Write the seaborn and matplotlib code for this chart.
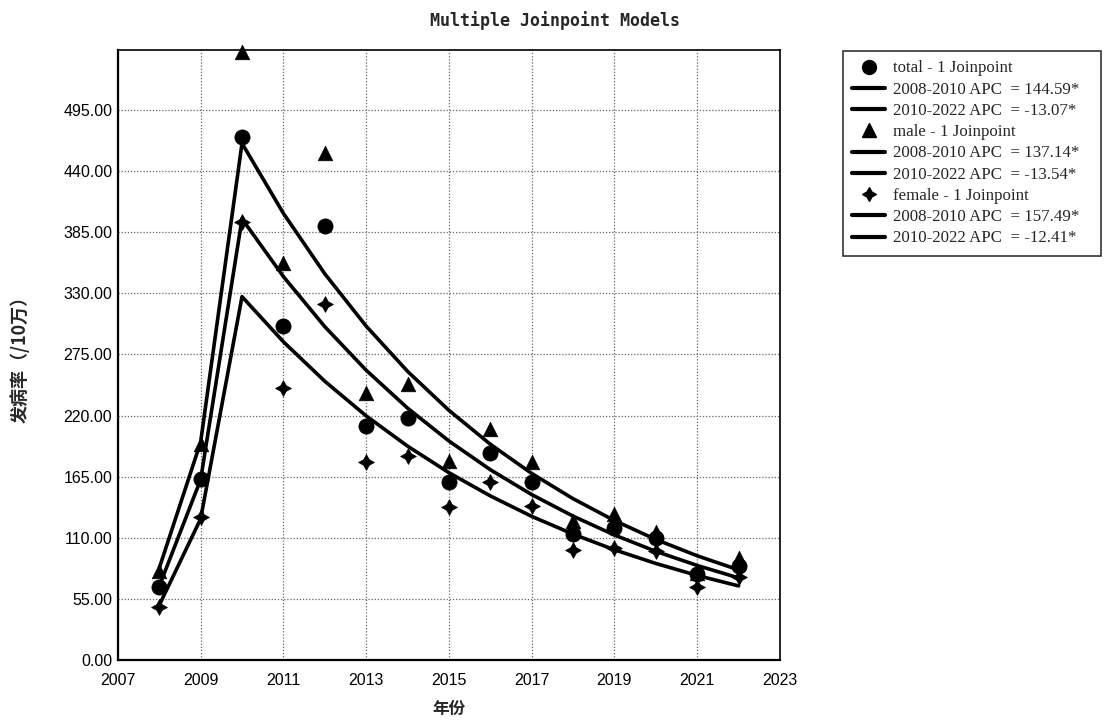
import numpy as np
import pandas as pd
import matplotlib
matplotlib.use("Agg")
import matplotlib.pyplot as plt
from matplotlib.lines import Line2D
import seaborn as sns

years = [2008, 2009, 2010, 2011, 2012, 2013, 2014, 2015, 2016, 2017, 2018, 2019, 2020, 2021, 2022]

total_obs = [65.7, 163, 471, 301, 391, 211, 218, 160, 186, 160, 113, 119, 110, 77, 85]
male_obs = [80, 194, 547, 357, 456, 240, 248, 179, 208, 178, 125, 131, 115, 78, 92]
female_obs = [48, 129, 394, 245, 320, 178, 184, 138, 160, 139, 99, 101, 98, 66, 75]

total_fit = [66.4, 162.3, 397.0, 345.1, 300.0, 260.8, 226.7, 197.1, 171.3, 148.9, 129.5, 112.5, 97.8, 85.1, 73.9]
male_fit = [82.7, 196.1, 465.0, 402.0, 347.6, 300.5, 259.8, 224.7, 194.2, 167.9, 145.2, 125.5, 108.5, 93.8, 81.1]
female_fit = [49.3, 127.0, 327.0, 286.4, 250.9, 219.7, 192.5, 168.6, 147.7, 129.3, 113.3, 99.2, 86.9, 76.1, 66.7]

series_names = ["total", "male", "female"]
legend_labels = [
    "total - 1 Joinpoint", "2008-2010 APC  = 144.59*", "2010-2022 APC  = -13.07*",
    "male - 1 Joinpoint", "2008-2010 APC  = 137.14*", "2010-2022 APC  = -13.54*",
    "female - 1 Joinpoint", "2008-2010 APC  = 157.49*", "2010-2022 APC  = -12.41*",
]
yticks = [0, 55, 110, 165, 220, 275, 330, 385, 440, 495]
xticks = [2007, 2009, 2011, 2013, 2015, 2017, 2019, 2021, 2023]

sns.set_theme(style="white")
plt.rcParams['font.family'] = ['Liberation Sans', 'DejaVu Sans']

fig = plt.figure(figsize=(11.12, 7.2), dpi=100)
ax = fig.add_axes([0.106, 0.0833, 0.5954, 0.8473])

markers = {"total": "o", "male": "^", "female": (4, 1, 0)}
msizes = {"total": 120, "male": 110, "female": 130}
obs = {"total": total_obs, "male": male_obs, "female": female_obs}
fit = {"total": total_fit, "male": male_fit, "female": female_fit}

for name in series_names:
    df = pd.DataFrame({"year": years, "obs": obs[name], "fit": fit[name]})
    sns.lineplot(data=df, x="year", y="fit", ax=ax, color="black", lw=2.6, zorder=3)
    sns.scatterplot(data=df, x="year", y="obs", ax=ax, color="black", marker=markers[name],
                    s=msizes[name], edgecolor="black", linewidth=0.5, zorder=4, clip_on=False)

ax.set_xlim(2007, 2023)
ax.set_ylim(0, 549)
ax.set_xticks(xticks)
ax.set_yticks(yticks)
ax.set_yticklabels([f"{v:.2f}" for v in yticks])
ax.tick_params(axis="both", labelsize=11.5, colors="black", length=0)
ax.tick_params(axis="x", pad=9)
ax.tick_params(axis="y", pad=4)
ax.grid(True, color="#666666", linestyle=(0, (1, 1.5)), linewidth=0.9)
for side, sp in ax.spines.items():
    sp.set_color("black")
    sp.set_linewidth(1.6 if side in ("left", "bottom") else 1.2)

ax.set_xlabel("年份", family=["Noto Sans CJK SC", "DejaVu Sans"], fontsize=12, fontweight="bold", labelpad=9)
ax.set_ylabel("发病率（/10万）", family=["Noto Sans CJK SC", "DejaVu Sans"], fontsize=13, fontweight="bold", labelpad=24)

fig.suptitle("Multiple Joinpoint Models", x=0.499, y=0.985, fontsize=12,
             family=["DejaVu Sans Mono"], fontweight="bold")

handles = []
for name in series_names:
    handles.append(Line2D([], [], color="black", marker=markers[name], linestyle="none", markersize=10))
    handles.append(Line2D([], [], color="black", lw=3))
    handles.append(Line2D([], [], color="black", lw=3))
leg = fig.legend(handles, [lab + "   " for lab in legend_labels], loc="upper left",
                 bbox_to_anchor=(0.758, 0.929),
                 prop={"family": "Liberation Serif", "size": 12.2}, frameon=True, fancybox=False,
                 edgecolor="black", labelspacing=0.31, handlelength=1.95, handletextpad=0.45,
                 borderpad=0.55, borderaxespad=0)
leg.get_frame().set_linewidth(1.2)

fig.savefig("out.png", dpi=100)
